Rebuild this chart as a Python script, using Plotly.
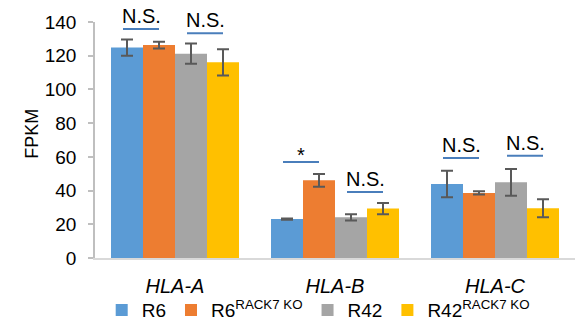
import plotly.graph_objects as go

# Expression of HLA class I genes (FPKM, mean ± error)
genes = ["HLA-A", "HLA-B", "HLA-C"]
series_names = ["R6", "R6<sup>RACK7 KO</sup>", "R42", "R42<sup>RACK7 KO</sup>"]
colors = ["#5B9BD5", "#ED7D31", "#A5A5A5", "#FFC000"]

r6 = [124.8, 23.1, 43.9]
r6_ko = [126.3, 46.1, 38.6]
r42 = [121.2, 24.1, 44.9]
r42_ko = [116.1, 29.3, 29.5]

r6_err = [4.8, 0.4, 7.9]
r6_ko_err = [2.0, 3.8, 1.0]
r42_err = [6.0, 1.9, 7.9]
r42_ko_err = [7.8, 3.4, 5.3]

values = [r6, r6_ko, r42, r42_ko]
errors = [r6_err, r6_ko_err, r42_err, r42_ko_err]

# Significance marks: gene index, first series of the pair, level, label
sig_gene = [0, 0, 1, 1, 2, 2]
sig_first = [0, 2, 0, 2, 0, 2]
sig_level = [135.9, 133.3, 57.0, 39.2, 59.3, 60.7]
sig_label = ["N.S.", "N.S.", "*", "N.S.", "N.S.", "N.S."]

FONT = "Arial, Liberation Sans, sans-serif"
n_series = len(values)
bargap = 0.2
bar_w = (1 - bargap) / n_series

fig = go.Figure()
for name, vals, errs, col in zip(series_names, values, errors, colors):
    fig.add_trace(go.Bar(
        name=name, x=genes, y=vals, marker=dict(color=col, line=dict(width=0)),
        error_y=dict(type="data", array=errs, color="#595959", thickness=2, width=6),
    ))

# Pair underlines with labels above them
for g, s, lvl, lab in zip(sig_gene, sig_first, sig_level, sig_label):
    c1 = g - (1 - bargap) / 2 + bar_w * (s + 0.5)
    c2 = c1 + bar_w
    fig.add_shape(type="line", xref="x", yref="y", x0=c1 - 0.025, x1=c2,
                  y0=lvl, y1=lvl, line=dict(color="#4A7EBB", width=2))
    fig.add_annotation(x=(c1 + c2) / 2 - 0.0125, y=lvl, xref="x", yref="y",
                       text=lab, showarrow=False, yanchor="bottom",
                       yshift=-6 if lab == "*" else 0,
                       font=dict(family=FONT, size=20, color="#000000"))

fig.add_annotation(text="FPKM", xref="paper", yref="paper", x=-0.155, y=0.525,
                   textangle=-90, showarrow=False,
                   font=dict(family=FONT, size=18, color="#000000"))

fig.update_layout(
    width=578, height=323,
    margin=dict(l=95, r=3, t=22, b=65, autoexpand=False),
    paper_bgcolor="white", plot_bgcolor="white",
    barmode="group", bargap=bargap, bargroupgap=0,
    font=dict(family=FONT, color="#000000"),
    showlegend=True,
    legend=dict(orientation="h", x=0.465, xanchor="center",
                yref="container", y=0.04, yanchor="middle",
                font=dict(family=FONT, size=19), itemclick=False,
                tracegroupgap=0, bgcolor="rgba(0,0,0,0)"),
)
fig.update_xaxes(
    tickmode="array", tickvals=genes,
    ticktext=[f"<i>{g}</i>" for g in genes],
    tickfont=dict(family=FONT, size=20), range=[-0.5, 2.5],
    showline=True, linecolor="#D9D9D9", linewidth=2, ticks="",
    ticklabelstandoff=9, showgrid=False, zeroline=False,
)
fig.update_yaxes(
    range=[0, 140], dtick=20, tickfont=dict(family=FONT, size=19),
    showline=True, linecolor="#BFBFBF", linewidth=1.5,
    ticks="outside", ticklen=5, tickcolor="#BFBFBF", tickwidth=1.5,
    ticklabelstandoff=8, showgrid=False, zeroline=False,
)

fig.write_html("out.html")
